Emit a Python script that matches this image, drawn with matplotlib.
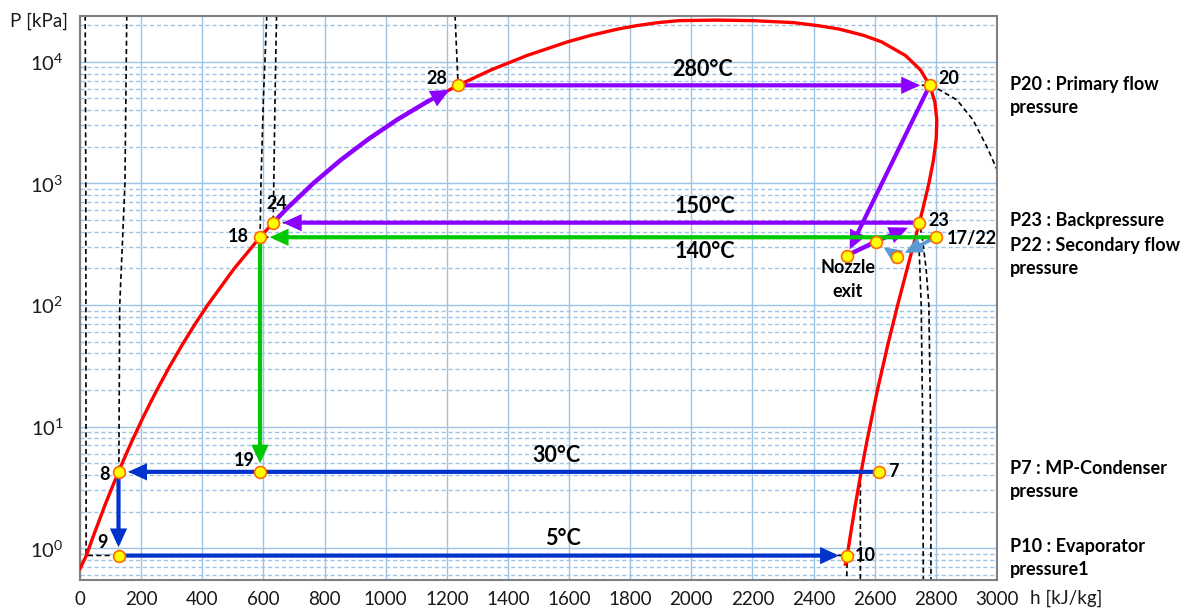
import matplotlib
matplotlib.use("Agg")
import matplotlib.pyplot as plt
from matplotlib.ticker import LogLocator, MultipleLocator, NullFormatter, LogFormatterSciNotation

plt.rcParams['font.family'] = ['Lato', 'DejaVu Sans']
plt.rcParams['mathtext.fontset'] = 'custom'
plt.rcParams['mathtext.rm'] = 'Lato'
plt.rcParams['mathtext.default'] = 'regular'

# saturation dome (h [kJ/kg], P [kPa])
liq_h = [0, 21.0, 42.0, 83.9, 125.7, 167.5, 209.3, 251.2, 293.1, 335.0, 377.0, 419.2,
         503.8, 589.2, 632.3, 675.5, 763.1, 852.3, 943.6, 1037.6, 1135.0, 1236.8,
         1344.8, 1462.2, 1594.5, 1670.9, 1761.5, 1819, 1890.7, 1961, 2084.3]
liq_P = [0.68, 0.8725, 1.228, 2.339, 4.247, 7.385, 12.35, 19.95, 31.20, 47.41, 70.18, 101.42,
         198.67, 361.5, 476.2, 618.2, 1002.8, 1554.9, 2319.6, 3346.9, 4692.3, 6416.6,
         8587.9, 11284, 14601, 16529, 18666, 19820, 21044, 21850, 22064]
vap_h = [2200, 2334.5, 2417, 2481.5, 2563.6, 2622.7, 2700.6, 2749.6, 2779.9, 2796.6,
         2803.0, 2801.1, 2792.0, 2777.2, 2757.4, 2745.9, 2733.5, 2706.0, 2675.6, 2643.0,
         2608.8, 2573.5, 2555.6, 2537.4, 2519.2, 2510.1, 2504]
vap_P = [21850, 21044, 19820, 18666, 16529, 14601, 11284, 8587.9, 6416.6, 4692.3,
         3346.9, 2319.6, 1554.9, 1002.8, 618.2, 476.2, 361.5, 198.67, 101.42, 47.41,
         19.95, 7.385, 4.247, 2.339, 1.228, 0.8725, 0.74]

# isotherms (black dashed)
iso5_h = [17, 19, 20, 2510, 2508]
iso5_P = [24000, 1000, 0.8725, 0.8725, 0.5]
iso30_h = [153, 147, 130, 127, 2553, 2553]
iso30_P = [24000, 1000, 100, 4.25, 4.25, 0.5]
iso140_h = [611, 600, 592, 589, 2733, 2745, 2752, 2757, 2759]
iso140_P = [24000, 5000, 1000, 361.5, 361.5, 300, 100, 10, 0.5]
iso150_h = [643, 638, 634, 632, 2746, 2756, 2768, 2777, 2783, 2784]
iso150_P = [24000, 5000, 1000, 476.2, 476.2, 350, 200, 100, 10, 0.5]
iso280_h = [1227, 1237, 2780, 2813, 2869, 2921, 2967, 3000, 3030]
iso280_P = [24000, 6417, 6417, 5870, 4860, 3350, 2000, 1300, 900]

# state points
pts = {
    '28': (1237, 6417), '20': (2780, 6417), '24': (632, 476), '23': (2746, 476),
    '18': (589, 361), '17/22': (2800, 361), 'noz': (2508, 255), 'mix': (2603, 332),
    'sec': (2674, 250), '19': (589, 4.25), '8': (126, 4.25), '9': (126, 0.87),
    '10': (2510, 0.87), '7': (2615, 4.25),
}
# 24 -> 28 follows the saturated liquid line
pump_h = [632.3, 675.5, 763.1, 852.3, 943.6, 1037.6, 1135.0, 1236.8]
pump_P = [476.2, 618.2, 1002.8, 1554.9, 2319.6, 3346.9, 4692.3, 6416.6]

PURPLE = '#8B00FF'
GREEN = '#00C800'
BLUE = '#0033CC'
LBLUE = '#5B9BD5'
GRID = '#9DC3E6'

fig = plt.figure(figsize=(11.92, 6.12), dpi=100)
ax = fig.add_axes([80/1192, 1-580/612, 917/1192, 564/612])
ax.set_yscale('log')
ax.set_xlim(0, 3000)
ax.set_ylim(0.548, 23850)

ax.xaxis.set_major_locator(MultipleLocator(200))
ax.yaxis.set_major_locator(LogLocator(base=10, numticks=10))
ax.yaxis.set_minor_locator(LogLocator(base=10, subs=range(2, 10), numticks=20))
ax.yaxis.set_major_formatter(LogFormatterSciNotation())
ax.yaxis.set_minor_formatter(NullFormatter())
ax.grid(True, which='major', color=GRID, lw=1.0, zorder=0)
ax.grid(True, which='minor', axis='y', color=GRID, lw=1.0, ls=(0, (3, 2)), zorder=0)
ax.set_axisbelow(True)
ax.tick_params(which='both', length=0)
ax.tick_params(axis='x', labelsize=13.5, pad=8, colors='#1a1a1a')
ax.tick_params(axis='y', labelsize=14.5, pad=12, colors='#1a1a1a')
for s in ax.spines.values():
    s.set_color('#808080')
    s.set_linewidth(1.5)

dash = dict(color='black', lw=1.2, ls=(0, (3, 2)), zorder=2)
for hh, pp in [(iso5_h, iso5_P), (iso30_h, iso30_P), (iso140_h, iso140_P),
               (iso150_h, iso150_P), (iso280_h, iso280_P)]:
    ax.plot(hh, pp, **dash)

ax.plot(liq_h + vap_h, liq_P + vap_P, color='#FF0000', lw=2.4, zorder=3)


def arrow(a, b, color, shrink=7, lw=3):
    ax.annotate('', xy=b, xytext=a, zorder=5,
                arrowprops=dict(arrowstyle='-|>,head_length=0.65,head_width=0.3',
                                color=color, lw=lw, shrinkA=0, shrinkB=shrink,
                                mutation_scale=13, joinstyle='miter'))


def seg(a, b, color):
    ax.plot([a[0], b[0]], [a[1], b[1]], color=color, lw=3.2, zorder=5,
            solid_capstyle='butt')


# primary loop
ax.plot(pump_h[:-1], pump_P[:-1], color=PURPLE, lw=3.2, zorder=5)
arrow((pump_h[-2], pump_P[-2]), pts['28'], PURPLE)
arrow(pts['28'], pts['20'], PURPLE)
arrow(pts['20'], pts['noz'], PURPLE, 5)
seg(pts['noz'], pts['mix'], PURPLE)
arrow(pts['mix'], pts['23'], PURPLE, 9)
arrow(pts['23'], pts['24'], PURPLE)
# secondary flow
arrow(pts['17/22'], pts['sec'], LBLUE, 6, 2.6)
arrow(pts['sec'], pts['mix'], LBLUE, 7, 2.6)
arrow(pts['17/22'], pts['18'], GREEN)
arrow(pts['18'], pts['19'], GREEN, 6)
# low pressure loop
arrow(pts['7'], pts['8'], BLUE)
arrow(pts['8'], pts['9'], BLUE, 6)
arrow(pts['9'], pts['10'], BLUE, 6)

for k, (hx, px) in pts.items():
    ax.plot(hx, px, 'o', ms=8.5, mfc='#FFFF00', mec='#FF6A00', mew=1.2, zorder=7)

lab = dict(fontsize=13, fontweight='bold', color='black', zorder=8,
           textcoords='offset pixels', va='center')
offsets = {
    '28': (-21, 7, 'center'), '20': (19, 7, 'center'), '24': (4, 19, 'center'),
    '18': (-22, 1, 'center'), '23': (9, 2, 'left'), '17/22': (11, -1, 'left'),
    '19': (-16, 11, 'center'), '8': (-14, -3, 'center'), '9': (-16, 13, 'center'),
    '10': (8, 0, 'left'), '7': (9, 0, 'left'),
}
for k, (dx, dy, ha) in offsets.items():
    ax.annotate(k, pts[k], xytext=(dx, dy), ha=ha, **lab)
ax.annotate('Nozzle\nexit', pts['noz'], xytext=(1, -24), ha='center',
            linespacing=1.45, **lab)

tl = dict(fontsize=15.5, fontweight='bold', ha='center', va='center',
          textcoords='offset pixels', color='black')
ax.annotate('280°C', (2035, 6417), xytext=(0, 16), **tl)
ax.annotate('150°C', (2045, 476), xytext=(0, 16), **tl)
ax.annotate('140°C', (2045, 361), xytext=(0, -14), **tl)
ax.annotate('30°C', (1560, 4.25), xytext=(0, 16), **tl)
ax.annotate('5°C', (1580, 0.87), xytext=(0, 17), **tl)

rt = dict(fontsize=13, fontweight='bold', ha='left', va='baseline', color='black')
right_lines = [
    ('P20 : Primary flow', 90), ('pressure', 113),
    ('P23 : Backpressure', 226), ('P22 : Secondary flow', 251), ('pressure', 274),
    ('P7 : MP-Condenser', 474), ('pressure', 497),
    ('P10 : Evaporator', 552), ('pressure1', 575),
]
for txt, yp in right_lines:
    fig.text(1010/1192, 1 - yp/612, txt, **rt)

fig.text(10/1192, 1 - 27/612, 'P [kPa]', fontsize=13.5, va='baseline', color='#1a1a1a')
fig.text(1030/1192, 1 - 604/612, 'h [kJ/kg]', fontsize=13.5, va='baseline', color='#1a1a1a')

fig.savefig('out.png', dpi=100)
